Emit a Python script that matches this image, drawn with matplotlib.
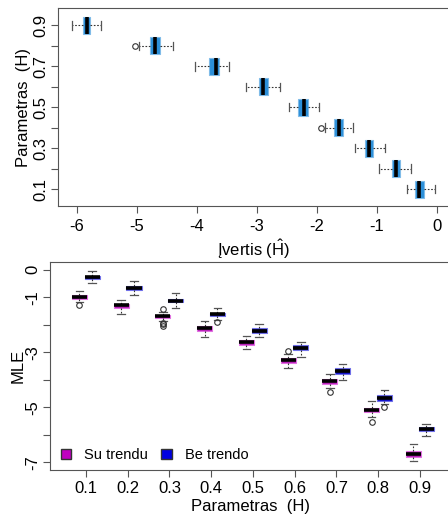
import numpy as np
import matplotlib
matplotlib.use('Agg')
import matplotlib.pyplot as plt
from matplotlib.patches import Patch

plt.rcParams['font.family'] = ['Liberation Sans', 'DejaVu Sans']
plt.rcParams['mathtext.fontset'] = 'custom'
plt.rcParams['mathtext.rm'] = 'Liberation Sans'
plt.rcParams['axes.unicode_minus'] = False

# top panel: estimates of H (horizontal boxes)
H = [0.1, 0.2, 0.3, 0.4, 0.5, 0.6, 0.7, 0.8, 0.9]
top_whislo = [-0.49, -0.96, -1.37, -1.86, -2.46, -3.17, -4.03, -4.96, -6.07]
top_q1 = [-0.36, -0.74, -1.19, -1.71, -2.32, -2.97, -3.79, -4.77, -5.90]
top_med = [-0.29, -0.68, -1.13, -1.63, -2.22, -2.89, -3.68, -4.69, -5.83]
top_q3 = [-0.22, -0.61, -1.07, -1.57, -2.14, -2.81, -3.63, -4.61, -5.77]
top_whishi = [-0.03, -0.43, -0.87, -1.40, -1.96, -2.61, -3.46, -4.39, -5.59]
top_fliers = [[], [], [], [-1.93], [], [], [], [-5.03], []]

# bottom panel: MLE, with trend (Su trendu) and without (Be trendo)
su_whislo = [-1.18, -1.61, -1.87, -2.45, -2.89, -3.56, -4.30, -5.37, -6.96]
su_q1 = [-1.06, -1.38, -1.75, -2.21, -2.72, -3.38, -4.16, -5.18, -6.80]
su_med = [-0.99, -1.30, -1.69, -2.13, -2.64, -3.29, -4.06, -5.10, -6.69]
su_q3 = [-0.92, -1.23, -1.63, -2.05, -2.57, -3.20, -3.97, -5.01, -6.58]
su_whishi = [-0.76, -1.10, -1.55, -1.88, -2.41, -3.06, -3.80, -4.78, -6.32]
su_fliers = [[-1.28], [], [-1.44, -1.92, -1.97, -2.03], [], [], [-2.96], [-4.44], [-5.53], []]

be_whislo = [-0.48, -0.93, -1.39, -1.82, -2.45, -3.18, -4.02, -4.89, -6.05]
be_q1 = [-0.34, -0.74, -1.18, -1.69, -2.30, -2.93, -3.78, -4.77, -5.87]
be_med = [-0.28, -0.65, -1.12, -1.62, -2.21, -2.85, -3.68, -4.66, -5.80]
be_q3 = [-0.22, -0.58, -1.06, -1.56, -2.13, -2.75, -3.59, -4.57, -5.72]
be_whishi = [-0.06, -0.42, -0.86, -1.40, -1.97, -2.61, -3.44, -4.38, -5.59]
be_fliers = [[], [], [], [-1.91], [], [], [], [-4.99], []]


def make_stats(lo, q1, med, q3, hi, fl):
    return [dict(whislo=a, q1=b, med=c, q3=d, whishi=e, fliers=f)
            for a, b, c, d, e, f in zip(lo, q1, med, q3, hi, fl)]


def draw(ax, stats, pos, width, face, edge, orient):
    ax.bxp(stats, positions=pos, widths=width, orientation=orient,
           patch_artist=True, manage_ticks=False, capwidths=width * 0.5,
           boxprops=dict(facecolor=face, edgecolor=edge, lw=0.8),
           medianprops=dict(color='black', lw=2.6),
           whiskerprops=dict(color='#333333', lw=0.8, ls=(0, (1.5, 1.5))),
           capprops=dict(color='#555555', lw=0.9),
           flierprops=dict(marker='o', ms=4, mfc='none', mec='#333333', mew=0.8))


fig = plt.figure(figsize=(4.48, 5.19), dpi=100)

# top
ax1 = fig.add_axes([58 / 448, 1 - 206 / 519, 392 / 448, 198 / 519])
draw(ax1, make_stats(top_whislo, top_q1, top_med, top_q3, top_whishi, top_fliers),
     H, 0.083, '#2b8fd9', '#7fbbe8', 'horizontal')
ax1.set_xlim(-6.31, 0.22)
ax1.set_ylim(0.017, 0.985)
ax1.set_xticks(range(-6, 1))
ax1.set_yticks(H)
ax1.set_yticklabels(['0.1', '', '0.3', '', '0.5', '', '0.7', '', '0.9'],
                    rotation=90, va='center')
ax1.set_xlabel(r'Įvertis ($\hat{\mathrm{H}}$)', fontsize=12, labelpad=3)
ax1.set_ylabel('Parametras  (H)', fontsize=12, labelpad=2)

# bottom
ax2 = fig.add_axes([50 / 448, 1 - 470 / 519, 400 / 448, 208 / 519])
su_pos = [h - 0.016 for h in H]
be_pos = [h + 0.015 for h in H]
draw(ax2, make_stats(su_whislo, su_q1, su_med, su_q3, su_whishi, su_fliers),
     su_pos, 0.036, '#b81fb8', '#e070e0', 'vertical')
draw(ax2, make_stats(be_whislo, be_q1, be_med, be_q3, be_whishi, be_fliers),
     be_pos, 0.036, '#1010c8', '#6f6fe8', 'vertical')
ax2.set_xlim(0.0138, 0.972)
ax2.set_ylim(-7.28, 0.28)
ax2.set_xticks(H)
ax2.set_xticklabels([str(h) for h in H])
ax2.set_yticks(range(0, -8, -1))
ax2.set_yticklabels(['0', '-1', '', '-3', '', '-5', '', '-7'],
                    rotation=90, va='center')
ax2.set_xlabel('Parametras  (H)', fontsize=12, labelpad=2)
ax2.set_ylabel('MLE', fontsize=12, labelpad=0)
ax2.legend(handles=[Patch(facecolor='#c000c0', edgecolor='#333333', label='Su trendu'),
                    Patch(facecolor='#0000e0', edgecolor='#333333', label='Be trendo')],
           loc='lower left', ncol=2, frameon=False, fontsize=10.5,
           handlelength=0.7, handleheight=0.7, handletextpad=0.9,
           columnspacing=0.9, bbox_to_anchor=(-0.005, -0.025))

for ax in (ax1, ax2):
    for s in ax.spines.values():
        s.set_color('#555555')
    ax.tick_params(labelsize=12, color='#555555', length=5, pad=2)
ax1.tick_params(axis='x', pad=4)
ax2.tick_params(axis='x', pad=3)

fig.savefig('out.png', dpi=100)
